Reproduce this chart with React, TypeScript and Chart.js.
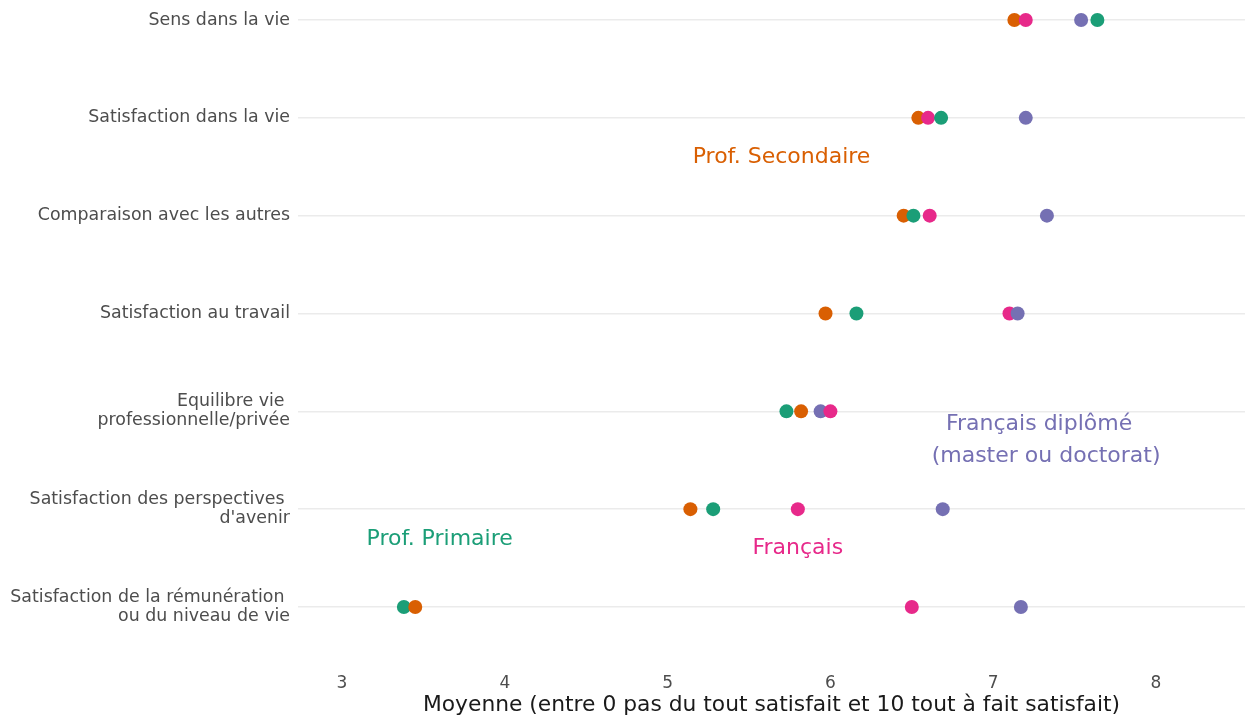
import React, { useEffect, useRef } from "react";
import { Chart, registerables } from "chart.js";

Chart.register(...registerables);

const categories: (string | string[])[] = [
  "Sens dans la vie",
  "Satisfaction dans la vie",
  "Comparaison avec les autres",
  "Satisfaction au travail",
  ["Equilibre vie ", "professionnelle/privée"],
  ["Satisfaction des perspectives ", "d'avenir"],
  ["Satisfaction de la rémunération ", "ou du niveau de vie"],
];

const profPrimaire = [7.64, 6.68, 6.51, 6.16, 5.73, 5.28, 3.38];
const profSecondaire = [7.13, 6.54, 6.45, 5.97, 5.82, 5.14, 3.45];
const francais = [7.2, 6.6, 6.61, 7.1, 6.0, 5.8, 6.5];
const francaisDiplome = [7.54, 7.2, 7.33, 7.15, 5.94, 6.69, 7.17];

const xTicks = [3, 4, 5, 6, 7, 8];

const seriesNames = ["Prof. Primaire", "Prof. Secondaire", "Français", "Français diplômé"];
const seriesColors = ["#1b9e77", "#d95f02", "#e7298a", "#7570b3"];

// annotation labels: text lines, x value, y (category index) value
const labelTexts: string[][] = [
  ["Prof. Secondaire"],
  ["Prof. Primaire"],
  ["Français"],
  ["Français diplômé  ", "(master ou doctorat)"],
];
const labelX = [5.7, 3.6, 5.8, 7.325];
const labelY = [1.4, 5.305, 5.4, 4.3];
const labelColors = ["#d95f02", "#1b9e77", "#e7298a", "#7570b3"];

const FONT = "'DejaVu Sans', sans-serif";

export default function App() {
  const ref = useRef<HTMLCanvasElement>(null);
  useEffect(() => {
    document.body.style.margin = "0";
    const all = [profPrimaire, profSecondaire, francais, francaisDiplome];
    const pts: { x: number; y: number; c: string }[] = [];
    all.forEach((vals, s) =>
      vals.forEach((v, i) => pts.push({ x: v, y: i, c: seriesColors[s] }))
    );
    pts.sort((a, b) => a.x - b.x);

    const labelPlugin = {
      id: "labels",
      afterDatasetsDraw(chart: any) {
        const ctx = chart.ctx;
        const xs = chart.scales.x;
        const ys = chart.scales.y;
        ctx.save();
        ctx.font = `22px ${FONT}`;
        ctx.textAlign = "center";
        ctx.textBaseline = "middle";
        labelTexts.forEach((lines, k) => {
          const px = xs.getPixelForValue(labelX[k]);
          const py = ys.getPixelForValue(labelY[k]);
          const lh = 32;
          ctx.fillStyle = labelColors[k];
          lines.forEach((t, j) => {
            ctx.fillText(t, px, py + (j - (lines.length - 1) / 2) * lh);
          });
        });
        ctx.restore();
      },
    };

    const chart = new Chart(ref.current!, {
      type: "scatter",
      data: {
        datasets: [
          {
            label: seriesNames.join(" / "),
            data: pts.map((p) => ({ x: p.x, y: p.y })),
            pointBackgroundColor: pts.map((p) => p.c),
            pointBorderWidth: 0,
            pointRadius: 7,
            pointHoverRadius: 7,
            showLine: false,
          } as any,
        ],
      },
      options: {
        animation: false,
        responsive: false,
        layout: { autoPadding: false, padding: { left: 0, right: 3, top: 0, bottom: 0 } },
        plugins: { legend: { display: false }, tooltip: { enabled: false } },
        scales: {
          x: {
            type: "linear",
            min: 2.7297,
            max: 8.5467,
            grid: { display: false, drawTicks: false },
            border: { display: false },
            afterBuildTicks: (s: any) => {
              s.ticks = xTicks.map((v) => ({ value: v }));
            },
            afterFit: (s: any) => {
              s.height = 48;
              s.paddingLeft = 0;
              s.paddingRight = 0;
            },
            ticks: {
              color: "#4d4d4d",
              font: { family: FONT, size: 17 },
              padding: 5,
              callback: (v: any) => String(v),
            },
            title: {
              display: true,
              text: "Moyenne (entre 0 pas du tout satisfait et 10 tout à fait satisfait)",
              color: "#1a1a1a",
              font: { family: FONT, size: 21.8, lineHeight: 1.0 },
              padding: { top: 0, bottom: 0 },
            },
          },
          y: {
            type: "linear",
            reverse: true,
            min: -0.2044,
            max: 6.6235,
            grid: { color: "#ebebeb", lineWidth: 1.5, drawTicks: false },
            border: { display: false },
            afterBuildTicks: (s: any) => {
              s.ticks = categories.map((_, i) => ({ value: i }));
            },
            afterFit: (s: any) => {
              s.width = 298;
              s.paddingTop = 0;
              s.paddingBottom = 0;
            },
            ticks: {
              color: "#4d4d4d",
              font: { family: FONT, size: 17.4, lineHeight: 1.1 },
              padding: 8,
              callback: (v: any) => categories[Math.round(Number(v))] as any,
            },
          },
        },
      },
      plugins: [labelPlugin],
    });
    return () => chart.destroy();
  }, []);
  return (
    <div style={{ position: "absolute", left: 0, top: 0, width: 1248, height: 716 }}>
      <canvas ref={ref} width={1248} height={716} />
    </div>
  );
}
